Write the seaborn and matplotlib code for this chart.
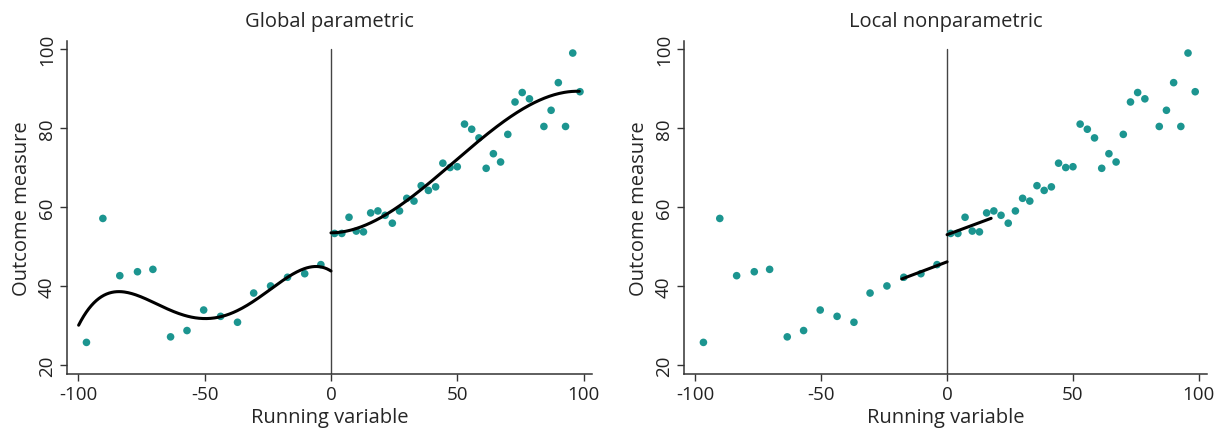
import numpy as np
import pandas as pd
import matplotlib
matplotlib.use("Agg")
import matplotlib.pyplot as plt
import seaborn as sns

# ---- data ----
left_x = [-96.8, -90.3, -83.6, -76.6, -70.5, -63.5, -57.0, -50.4, -43.7, -37.0,
          -30.6, -23.9, -17.2, -10.4, -4.0]
left_y = [25.7, 57.1, 42.6, 43.6, 44.2, 27.1, 28.7, 33.9, 32.3, 30.8,
          38.2, 40.0, 42.2, 43.1, 45.4]
right_x = [1.43, 4.29, 7.14, 10.0, 12.86, 15.71, 18.57, 21.43, 24.29, 27.14,
           30.0, 32.86, 35.71, 38.57, 41.43, 44.29, 47.14, 50.0, 52.86, 55.71,
           58.57, 61.43, 64.29, 67.14, 70.0, 72.86, 75.71, 78.57, 84.29, 87.14,
           90.0, 92.86, 95.71, 98.57]
right_y = [53.3, 53.3, 57.4, 53.9, 53.7, 58.5, 59.0, 57.9, 55.9, 59.0,
           62.2, 61.5, 65.4, 64.2, 65.1, 71.1, 70.0, 70.2, 81.0, 79.7,
           77.5, 69.8, 73.5, 71.4, 78.4, 86.6, 89.0, 87.4, 80.4, 84.5,
           91.5, 80.4, 99.0, 89.2]

# global polynomial fit curves
fitL_x = [-99.9, -94.0, -88.7, -83.7, -76.9, -67.7, -59.8, -49.3, -41.5,
          -33.6, -25.7, -17.8, -10.0, -4.1, -1.1]
fitL_y = [29.9, 35.8, 38.1, 38.6, 37.5, 35.0, 32.8, 31.8, 32.7,
          35.0, 38.4, 41.8, 44.3, 45.1, 44.1]
fitR_x = [0.0, 8.4, 21.5, 34.6, 47.8, 60.9, 74.0, 78.0, 87.1, 98.3]
fitR_y = [53.3, 54.4, 58.2, 63.6, 70.8, 78.0, 84.3, 85.6, 88.1, 89.3]

titles = ["Global parametric", "Local nonparametric"]
xlabel = "Running variable"
ylabel = "Outcome measure"
xticks = [-100, -50, 0, 50, 100]
yticks = [20, 40, 60, 80, 100]
bandwidth = 17.5

sns.set_theme(style="ticks")
plt.rcParams['font.family'] = ['Open Sans', 'DejaVu Sans']

teal = "#1c9590"
df = pd.DataFrame({"x": left_x + right_x, "y": left_y + right_y})

fig = plt.figure(figsize=(12.25, 4.31), dpi=100)
ax1 = fig.add_axes([0.0547, 0.130, 0.4285, 0.773])
ax2 = fig.add_axes([0.5584, 0.130, 0.4270, 0.773])

ylo, yhi = 17.7, 102.1
for ax, title in zip([ax1, ax2], titles):
    sns.scatterplot(data=df, x="x", y="y", ax=ax, color=teal, s=30,
                    edgecolor="none", linewidth=0, zorder=3)
    ax.set_xlim(-104.5, 103.3)
    ax.set_ylim(ylo, yhi)
    ax.axvline(0, ymin=0, ymax=(100 - ylo) / (yhi - ylo), color="#444444",
               lw=1.0, zorder=2)
    ax.set_xticks(xticks)
    ax.set_yticks(yticks)
    ax.set_xticklabels([str(t) for t in xticks], fontsize=13.5)
    ax.set_yticklabels([str(t) for t in yticks], fontsize=13.5, rotation=90,
                       va="center")
    ax.set_xlabel(xlabel, fontsize=14.5, labelpad=3)
    ax.set_ylabel(ylabel, fontsize=14.5, labelpad=4)
    ax.set_title(title, fontsize=14.5, pad=11)
    ax.tick_params(direction="out", length=5, width=1, color="#333333",
                   labelcolor="#222222", pad=3)
    sns.despine(ax=ax)
    for sp in ["left", "bottom"]:
        ax.spines[sp].set_color("#333333")
        ax.spines[sp].set_linewidth(1.1)

# global polynomial curves
pl = np.polyfit(fitL_x, fitL_y, 4)
pr = np.polyfit(fitR_x, fitR_y, 3)
gl = np.linspace(min(fitL_x), 0, 200)
gr = np.linspace(0, max(fitR_x), 200)
sns.lineplot(x=gl, y=np.polyval(pl, gl), ax=ax1, color="black", lw=2.2, zorder=4)
sns.lineplot(x=gr, y=np.polyval(pr, gr), ax=ax1, color="black", lw=2.2, zorder=4)

# local linear fits
lx, ly = np.array(left_x), np.array(left_y)
rx, ry = np.array(right_x), np.array(right_y)
ml = lx >= -bandwidth - 0.5
mr = rx <= bandwidth
ql = np.polyfit(lx[ml], ly[ml], 1)
qr = np.polyfit(rx[mr], ry[mr], 1)
ll = np.linspace(-bandwidth - 0.5, 0, 50)
lr = np.linspace(0, bandwidth, 50)
sns.lineplot(x=ll, y=np.polyval(ql, ll), ax=ax2, color="black", lw=2.2, zorder=4)
sns.lineplot(x=lr, y=np.polyval(qr, lr), ax=ax2, color="black", lw=2.2, zorder=4)

fig.savefig("out.png", dpi=100)
